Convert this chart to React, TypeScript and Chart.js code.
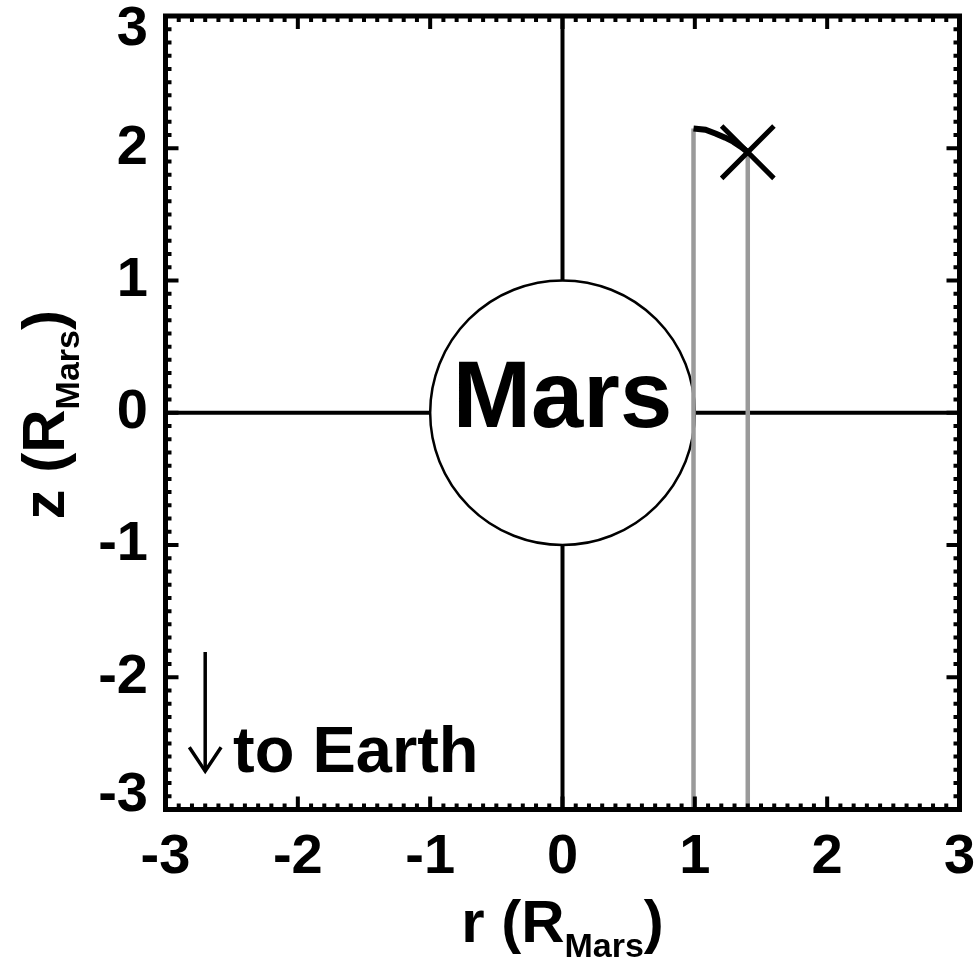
import React, { useEffect, useRef } from 'react';
import { Chart, registerables } from 'chart.js';

Chart.register(...registerables);

const FONT_FAMILY = '"Liberation Sans", Arial, Helvetica, sans-serif';

// axis range and ticks (units of Mars radii)
const AXIS_MIN = -3;
const AXIS_MAX = 3;
const MAJOR_STEP = 1;
const MINOR_PER_MAJOR = 10;

// reference cross through the planet centre (r, z)
const crossUpR = [0, 0];
const crossUpZ = [3, 1];
const crossDownR = [0, 0];
const crossDownZ = [-1, -3];
const crossLeftR = [-3, -1];
const crossLeftZ = [0, 0];
const crossRightR = [1, 3];
const crossRightZ = [0, 0];

// planet
const PLANET_RADIUS = 1;
const PLANET_LABEL = 'Mars';
const PLANET_LABEL_AT = { r: 0, z: -0.108 };

// grey vertical lines
const grayInnerR = [0.99, 0.99];
const grayInnerZ = [-3, 2.15];
const grayOuterR = [1.4, 1.4];
const grayOuterZ = [-3, 1.97];

// black trajectory segment
const trackR = [0.99, 1.08, 1.16, 1.23, 1.29, 1.35, 1.4];
const trackZ = [2.15, 2.14, 2.11, 2.08, 2.05, 2.01, 1.97];

// position marker
const markerR = [1.4];
const markerZ = [1.97];

// "to Earth" arrow
const arrowShaftR = [-2.7, -2.7];
const arrowShaftZ = [-1.81, -2.71];
const arrowHeadR = [-2.82, -2.7, -2.58];
const arrowHeadZ = [-2.53, -2.71, -2.53];
const EARTH_LABEL = 'to Earth';
const EARTH_LABEL_AT = { r: -2.49, z: -2.716 };

// axis titles
const X_TITLE = ['r (R', 'Mars', ')'];
const Y_TITLE = ['z (R', 'Mars', ')'];

const pts = (rs: number[], zs: number[]) => rs.map((r, i) => ({ x: r, y: zs[i] }));

const lineDs = (rs: number[], zs: number[], color: string, width: number) => ({
  type: 'line' as const,
  data: pts(rs, zs),
  showLine: true,
  borderColor: color,
  backgroundColor: color,
  borderWidth: width,
  pointRadius: 0,
  pointHoverRadius: 0,
  fill: false,
  tension: 0,
  borderCapStyle: 'butt' as const,
});

function drawTitle(ctx: CanvasRenderingContext2D, parts: string[], mainSize: number, subSize: number, subDrop: number) {
  const mainFont = `bold ${mainSize}px ${FONT_FAMILY}`;
  const subFont = `bold ${subSize}px ${FONT_FAMILY}`;
  ctx.font = mainFont;
  const w0 = ctx.measureText(parts[0]).width;
  const w2 = ctx.measureText(parts[2]).width;
  ctx.font = subFont;
  const w1 = ctx.measureText(parts[1]).width;
  const total = w0 + w1 + w2;
  let x = -total / 2;
  ctx.textAlign = 'left';
  ctx.textBaseline = 'alphabetic';
  ctx.font = mainFont;
  ctx.fillText(parts[0], x, 0);
  x += w0;
  ctx.font = subFont;
  ctx.fillText(parts[1], x, subDrop);
  x += w1;
  ctx.font = mainFont;
  ctx.fillText(parts[2], x, 0);
}

const decorPlugin = {
  id: 'decor',
  beforeDatasetsDraw(chart: any) {
    const { ctx } = chart;
    const xs = chart.scales.x;
    const ys = chart.scales.y;
    const cx = xs.getPixelForValue(0);
    const cy = ys.getPixelForValue(0);
    const rx = xs.getPixelForValue(PLANET_RADIUS) - cx;
    const ry = cy - ys.getPixelForValue(PLANET_RADIUS);
    ctx.save();
    ctx.beginPath();
    ctx.ellipse(cx, cy, rx, ry, 0, 0, Math.PI * 2);
    ctx.fillStyle = '#ffffff';
    ctx.fill();
    ctx.lineWidth = 2.5;
    ctx.strokeStyle = '#000000';
    ctx.stroke();
    ctx.font = `bold 94px ${FONT_FAMILY}`;
    ctx.fillStyle = '#000000';
    ctx.textAlign = 'center';
    ctx.textBaseline = 'alphabetic';
    ctx.fillText(PLANET_LABEL, xs.getPixelForValue(PLANET_LABEL_AT.r), ys.getPixelForValue(PLANET_LABEL_AT.z));
    ctx.restore();
  },
  afterDraw(chart: any) {
    const { ctx, chartArea } = chart;
    const xs = chart.scales.x;
    const ys = chart.scales.y;
    const { left, right, top, bottom } = chartArea;
    ctx.save();
    ctx.strokeStyle = '#000000';
    ctx.fillStyle = '#000000';

    // ticks on all four sides (pointing inward)
    ctx.lineWidth = 4;
    ctx.lineCap = 'butt';
    const n = ((AXIS_MAX - AXIS_MIN) / MAJOR_STEP) * MINOR_PER_MAJOR;
    for (let i = 0; i <= n; i++) {
      const v = AXIS_MIN + (i * MAJOR_STEP) / MINOR_PER_MAJOR;
      const len = i % MINOR_PER_MAJOR === 0 ? 13 : 6;
      const px = xs.getPixelForValue(v);
      const py = ys.getPixelForValue(v);
      ctx.beginPath();
      ctx.moveTo(px, bottom);
      ctx.lineTo(px, bottom - len);
      ctx.moveTo(px, top);
      ctx.lineTo(px, top + len);
      ctx.moveTo(left, py);
      ctx.lineTo(left + len, py);
      ctx.moveTo(right, py);
      ctx.lineTo(right - len, py);
      ctx.stroke();
    }

    // frame
    ctx.lineWidth = 5;
    ctx.lineJoin = 'miter';
    ctx.strokeRect(left, top, right - left, bottom - top);

    // y tick labels
    ctx.font = `bold 56px ${FONT_FAMILY}`;
    ctx.textAlign = 'right';
    ctx.textBaseline = 'middle';
    ys.ticks.forEach((t: any) => {
      let py = ys.getPixelForValue(t.value);
      py = Math.min(Math.max(py, top + 14), bottom - 14);
      ctx.fillText(String(t.value), left - 17.5, py);
    });

    // x title
    ctx.save();
    ctx.translate((left + right) / 2, 942);
    drawTitle(ctx, X_TITLE, 60, 34, 15);
    ctx.restore();

    // y title
    ctx.save();
    ctx.translate(64, (top + bottom) / 2 + 2);
    ctx.rotate(-Math.PI / 2);
    drawTitle(ctx, Y_TITLE, 60, 34, 15);
    ctx.restore();

    // "to Earth" label
    ctx.font = `bold 65px ${FONT_FAMILY}`;
    ctx.textAlign = 'left';
    ctx.textBaseline = 'alphabetic';
    ctx.fillText(EARTH_LABEL, xs.getPixelForValue(EARTH_LABEL_AT.r), ys.getPixelForValue(EARTH_LABEL_AT.z));

    ctx.restore();
  },
};

export default function App() {
  const canvasRef = useRef<HTMLCanvasElement | null>(null);

  useEffect(() => {
    const canvas = canvasRef.current;
    if (!canvas) return;
    const chart = new Chart(canvas, {
      type: 'scatter',
      data: {
        datasets: [
          {
            type: 'scatter' as const,
            data: pts(markerR, markerZ),
            pointStyle: 'crossRot',
            pointRadius: 37,
            pointHoverRadius: 37,
            borderColor: '#000000',
            backgroundColor: '#000000',
            borderWidth: 5,
            pointBorderWidth: 5,
          } as any,
          lineDs(trackR, trackZ, '#000000', 6),
          lineDs(grayInnerR, grayInnerZ, '#9a9a9a', 4.5),
          lineDs(grayOuterR, grayOuterZ, '#9a9a9a', 4.5),
          lineDs(crossUpR, crossUpZ, '#000000', 4),
          lineDs(crossDownR, crossDownZ, '#000000', 4),
          lineDs(crossLeftR, crossLeftZ, '#000000', 4),
          lineDs(crossRightR, crossRightZ, '#000000', 4),
          lineDs(arrowShaftR, arrowShaftZ, '#000000', 3.5),
          lineDs(arrowHeadR, arrowHeadZ, '#000000', 3.5),
        ],
      },
      options: {
        animation: false,
        responsive: false,
        devicePixelRatio: 1,
        events: [],
        layout: { autoPadding: false, padding: { left: 0, right: 17.5, top: 16, bottom: 0 } },
        plugins: {
          legend: { display: false },
          tooltip: { enabled: false },
          title: { display: false },
        },
        scales: {
          x: {
            type: 'linear',
            position: 'bottom',
            min: AXIS_MIN,
            max: AXIS_MAX,
            grid: { display: false, drawTicks: false },
            border: { display: false },
            ticks: {
              stepSize: MAJOR_STEP,
              autoSkip: false,
              maxRotation: 0,
              padding: 14,
              color: '#000000',
              font: { family: FONT_FAMILY, size: 56, weight: 'bold' },
              callback: (v: any) => String(v),
            },
            afterFit: (s: any) => {
              s.height = 148.5;
              s.paddingLeft = 0;
              s.paddingRight = 0;
            },
          },
          y: {
            type: 'linear',
            position: 'left',
            min: AXIS_MIN,
            max: AXIS_MAX,
            grid: { display: false, drawTicks: false },
            border: { display: false },
            ticks: { stepSize: MAJOR_STEP, display: false },
            afterFit: (s: any) => {
              s.width = 165.5;
              s.paddingTop = 0;
              s.paddingBottom = 0;
            },
          },
        },
      } as any,
      plugins: [decorPlugin],
    });
    return () => chart.destroy();
  }, []);

  return (
    <div style={{ position: 'absolute', left: 0, top: 0, width: 977, height: 958, background: '#ffffff' }}>
      <canvas ref={canvasRef} width={977} height={958} style={{ display: 'block', width: 977, height: 958 }} />
    </div>
  );
}
